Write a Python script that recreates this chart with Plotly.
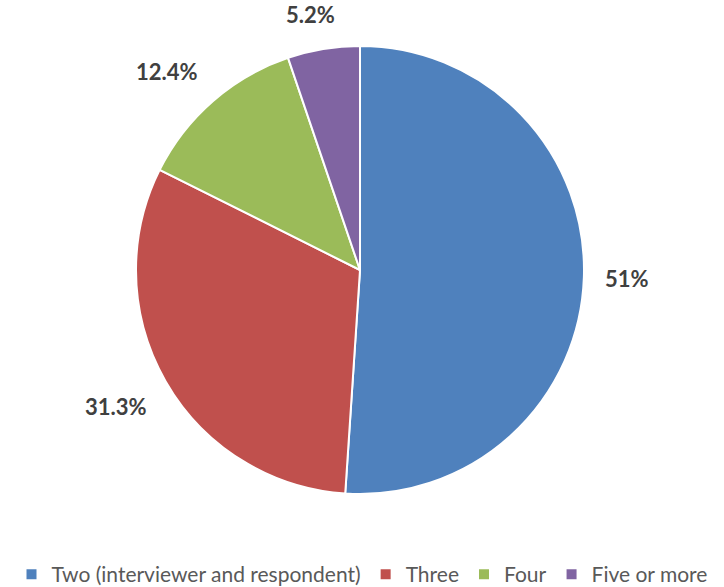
import math
import plotly.graph_objects as go

categories = ["Two (interviewer and respondent)", "Three", "Four", "Five or more"]
values = [51.0, 31.3, 12.4, 5.2]
value_labels = ["51%", "31.3%", "12.4%", "5.2%"]
colors = ["#4F81BD", "#C0504D", "#9BBB59", "#8064A2"]

W, H = 724, 587
MB = 50                      # bottom margin reserved for the legend
HP = H - MB                  # plot-area height
CX, CY, R = 360, 270, 224    # pie centre / radius in pixels (from top-left)
GAP = 19

dom_x = [(CX - R) / W, (CX + R) / W]
dom_y = [(HP - CY - R) / HP, (HP - CY + R) / HP]

fig = go.Figure(go.Pie(
    labels=categories,
    values=values,
    textinfo="none",
    sort=False,
    direction="clockwise",
    rotation=0,
    domain=dict(x=dom_x, y=dom_y),
    marker=dict(colors=colors, line=dict(color="white", width=2)),
    hoverinfo="label+percent",
))

# data labels placed along each slice bisector, just outside the pie
total = sum(values)
annotations = []
cum = 0.0
for v, lab in zip(values, value_labels):
    mid = (cum + v / 2) / total * 2 * math.pi
    cum += v
    sx, sy = math.sin(mid), math.cos(mid)  # sy positive = up
    px = CX + (R + GAP) * sx
    py = HP - CY + (R + GAP) * sy
    xa = "left" if sx > 0.3 else ("right" if sx < -0.3 else "center")
    ya = "bottom" if sy > 0.3 else ("top" if sy < -0.3 else "middle")
    annotations.append(dict(
        x=px / W, y=py / HP, xref="paper", yref="paper",
        text=lab, showarrow=False, xanchor=xa, yanchor=ya,
        xshift=-12 * (1 - abs(sx)) if xa == "center" else 0,
        font=dict(family="Lato, Open Sans, sans-serif", size=22, color="#404040", weight="bold"),
    ))

fig.update_layout(
    width=W, height=H,
    paper_bgcolor="white", plot_bgcolor="white",
    margin=dict(l=0, r=0, t=0, b=MB, autoexpand=False),
    showlegend=True,
    annotations=annotations,
    legend=dict(
        orientation="h",
        xref="container", yref="container",
        x=0.5, xanchor="center",
        y=0.056, yanchor="top",
        font=dict(family="Lato, Open Sans, sans-serif", size=21, color="#595959"),
        traceorder="normal",
    ),
)

fig.write_html("out.html")
